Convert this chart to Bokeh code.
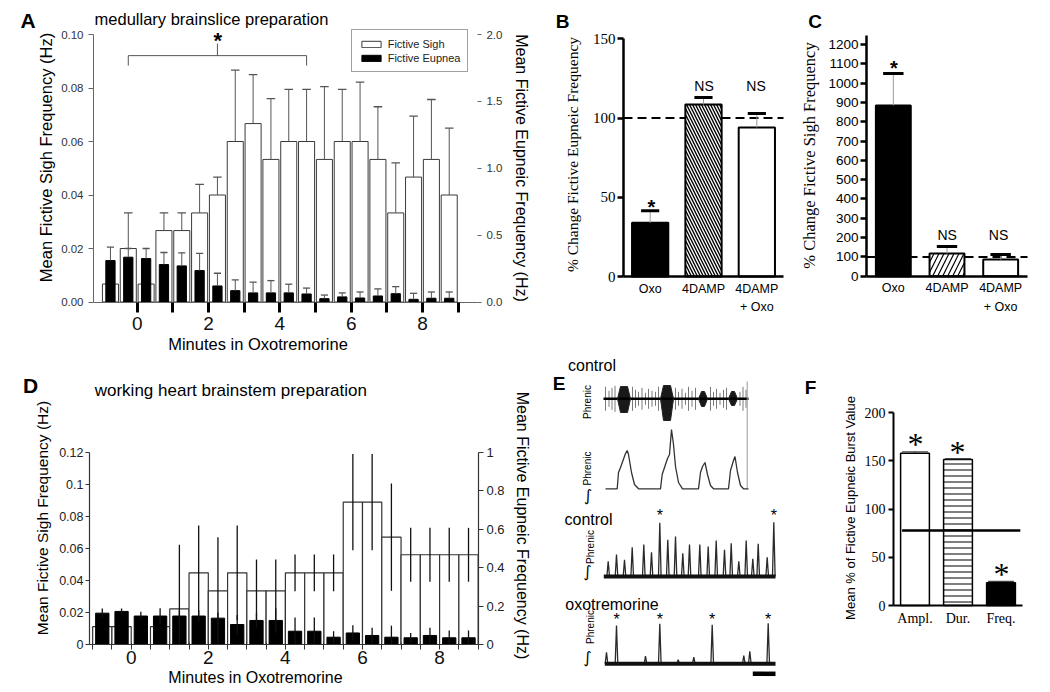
import math
from bokeh.plotting import figure
from bokeh.models import (Range1d, LinearAxis, FixedTicker, NumeralTickFormatter,
                          Label, Legend, LegendItem)
from bokeh.layouts import row, column
from bokeh.embed import file_html
from bokeh.resources import INLINE

SANS = "Liberation Sans"
SERIF = "Liberation Serif"

# ---------------- Panel A data: medullary brainslice ----------------
minutes = [-0.75, -0.25, 0.25, 0.75, 1.25, 1.75, 2.25, 2.75, 3.25, 3.75,
           4.25, 4.75, 5.25, 5.75, 6.25, 6.75, 7.25, 7.75, 8.25, 8.75]
a_sigh = [0.0067, 0.0200, 0.0067, 0.0267, 0.0267, 0.0333, 0.0400, 0.0600, 0.0667, 0.0533,
          0.0600, 0.0600, 0.0533, 0.0600, 0.0600, 0.0533, 0.0333, 0.0467, 0.0533, 0.0400]
a_sigh_sem = [0.0, 0.0133, 0.0, 0.0066, 0.0066, 0.0107, 0.0067, 0.0267, 0.0183, 0.0227,
              0.0195, 0.0195, 0.0272, 0.0195, 0.0222, 0.0197, 0.0187, 0.0228, 0.0224, 0.0250]
a_eup = [0.310, 0.335, 0.325, 0.280, 0.270, 0.235, 0.120, 0.085, 0.068, 0.068,
         0.068, 0.060, 0.025, 0.038, 0.030, 0.045, 0.062, 0.020, 0.028, 0.028]
a_eup_sem = [0.100, 0.065, 0.075, 0.090, 0.098, 0.128, 0.095, 0.080, 0.080, 0.092,
             0.065, 0.044, 0.027, 0.030, 0.045, 0.053, 0.053, 0.045, 0.047, 0.047]
a_minute_ticks = [0, 1, 2, 3, 4, 5, 6, 7, 8, 9]
a_xlim = (-1.225, 9.54)
a_sigh_lim = (0, 0.10)
a_eup_lim = (0, 2.0)
a_sig_span = [-0.25, 4.75]          # bins covered by the significance bracket
a_sig_levels = [0.0884, 0.0921, 0.0966]

# ---------------- Panel B / C data ----------------
treatments = ["Oxo", "4DAMP", "4DAMP\n+ Oxo"]
b_eup_change = [33.9, 108.5, 94.0]
b_eup_sem = [7.6, 4.4, 8.8]
c_sigh_change = [884, 118, 86]
c_sigh_sem = [166, 36, 26]
bc_marks = ["*", "NS", "NS"]
control_level = 100
b_ylim = (0, 150)
c_ylim = (0, 1246)

# ---------------- Panel D data: working heart brainstem ----------------
d_sigh = [0.0112, 0.0112, 0.0, 0.0112, 0.0222, 0.0447, 0.0335, 0.0447, 0.0335, 0.0335,
          0.0447, 0.0447, 0.0447, 0.0888, 0.0888, 0.0670, 0.0560, 0.0560, 0.0560, 0.0560]
d_sigh_sem = [0, 0, 0, 0, 0.0400, 0.0295, 0.0335, 0.0295, 0.0195, 0.0195,
              0.0115, 0.0115, 0.0115, 0.0300, 0.0300, 0.0335, 0.0168, 0.0168, 0.0168, 0.0168]
d_eup = [0.163, 0.172, 0.148, 0.148, 0.148, 0.148, 0.137, 0.104, 0.125, 0.125,
         0.069, 0.069, 0.038, 0.060, 0.047, 0.038, 0.035, 0.047, 0.035, 0.035]
d_eup_sem = [0.024, 0.015, 0.022, 0.040, 0.030, 0.030, 0.030, 0.050, 0.040, 0.064,
             0.072, 0.072, 0.031, 0.040, 0.040, 0.060, 0.025, 0.040, 0.038, 0.038]
d_minute_ticks = [-1, -0.5, 0, 0.5, 1, 1.5, 2, 2.5, 3, 3.5, 4, 4.5, 5, 5.5,
                  6, 6.5, 7, 7.5, 8, 8.5, 9]
d_labelled = [0, 2, 4, 6, 8]
d_xlim = (-1.082, 9.01)
d_sigh_lim = (0, 0.12)
d_eup_lim = (0, 1.0)

# ---------------- Panel E data: phrenic traces (trace px units) ----------------
e_raw_x = [60, 63.5, 66.5, 69.5, 87, 90, 93, 96.5, 100, 103, 106.5, 110, 113,
           130, 133, 136.5, 140, 143, 146.5, 150, 165, 168, 171, 174.5, 178, 181,
           194.5, 197.5, 200.5]
e_raw_amp = [12, 8, 11, 13, 12, 9, 7, 11, 6, 10, 8, 7, 12,
             11, 7, 10, 6, 12, 8, 11, 12, 7, 10, 6, 9, 11,
             7, 12, 9]
e_raw_base = 44.3
e_raw_span = [58, 203]
e_burst_left = [72, 115, 153, 183]
e_burst_right = [85, 128, 162, 192]
e_burst_top = [32, 31, 37, 37]
e_burst_bottom = [58, 66, 52, 51]
e_int_x = [60, 71.7, 73, 75, 80, 81.7, 83, 86, 89, 93, 115, 116.7, 120, 122, 124, 126,
           128, 130, 133, 137, 153, 155, 157, 159.5, 162, 165, 168, 183, 185, 188,
           189.5, 192, 195, 198, 203]
e_int_y = [134.3, 134.3, 118, 113, 99, 96, 100, 118, 130, 134.3, 134.3, 120, 110, 104, 100, 75,
           90, 112, 128, 134.3, 134.3, 118, 112, 108, 120, 131, 134.3, 134.3, 116, 106,
           102, 118, 131, 134.3, 134.3]
e_ctrl_x = [62.7, 71, 79, 86.7, 98.3, 106, 114.3, 122.3, 130, 137.3, 144, 154.3, 162.7,
            170.7, 179, 185.7, 193.3, 200.7, 207.3, 212.7, 221.7, 228.3]
e_ctrl_top = [206.7, 200, 205.3, 192.7, 190, 197.7, 168.3, 185.3, 182, 198.7, 190, 190, 192,
              186, 195.3, 188.7, 206.7, 186, 204.3, 189.3, 202.7, 167.7]
e_ctrl_base = 222
e_ctrl_span = [58.3, 230]
e_oxo_x = [61, 71, 100, 114.3, 132.7, 148.3, 166.7, 198.3, 204.3, 222.7]
e_oxo_top = [297.7, 271, 301.7, 269.3, 305.3, 302.7, 270.3, 301, 296.7, 268.7]
e_oxo_base = 309.3
e_oxo_span = [59.3, 230]
e_scale_bar = [207.3, 230]
e_scale_y = 319.3

# ---------------- Panel F data ----------------
f_params = ["Ampl.", "Dur.", "Freq."]
f_pct = [157.8, 151.3, 23.5]
f_sem = [1.5, 1.0, 1.5]
f_ref = 77.7
f_ylim = (0, 200)


# ---------------- layout helpers (page pixel placement of each panel) ----------------
class Panel:
    def __init__(self, box, xa, xb, ya, yb):
        self.X0, self.Y0, self.W, self.H = box
        self.xa, self.ya = xa, ya
        self.sx = (xb[1] - xa[1]) / (xb[0] - xa[0])
        self.sy = (yb[1] - ya[1]) / (yb[0] - ya[0])

    def dx(self, X):
        return self.xa[1] + (X - self.xa[0]) * self.sx

    def dy(self, Y):
        return self.ya[1] + (Y - self.ya[0]) * self.sy

    def xr(self):
        return (self.dx(self.X0), self.dx(self.X0 + self.W))

    def yr(self):
        return (self.dy(self.Y0 + self.H), self.dy(self.Y0))


def mkfig(P, extra=None):
    p = figure(width=P.W, height=P.H, x_range=Range1d(*P.xr()), y_range=Range1d(*P.yr()),
               output_backend="svg", toolbar_location=None, title=None, min_border=0,
               min_border_left=0, min_border_right=0, min_border_top=0, min_border_bottom=0)
    p.grid.visible = False
    p.outline_line_color = None
    p.background_fill_color = "white"
    p.border_fill_color = "white"
    if extra is not None:
        lo, hi = P.yr()
        p.extra_y_ranges = {"eup": Range1d(lo * extra, hi * extra)}
    return p


def style_axis(ax, line_color="black", line_width=1, tick_out=5, tick_in=0, tick_width=1,
               tick_color=None, size=12, font=SANS, color="black", standoff=3):
    ax.axis_line_color = line_color
    ax.axis_line_width = line_width
    ax.major_tick_out = tick_out
    ax.major_tick_in = tick_in
    ax.major_tick_line_width = tick_width
    ax.major_tick_line_color = tick_color if tick_color else line_color
    ax.minor_tick_line_color = None
    ax.major_label_text_font_size = f"{size}px"
    ax.major_label_text_font = font
    ax.major_label_text_color = color
    ax.major_label_standoff = standoff


def lab(p, P, X, Y, text, size, font=SANS, style="normal", angle=0.0,
        align="center", color="black"):
    p.add_layout(Label(x=P.dx(X), y=P.dy(Y), text=text, text_font_size=f"{size}px",
                       text_font=font, text_font_style=style, angle=angle, text_align=align,
                       text_baseline="middle", text_color=color))


def star(p, P, X, cy, size, font=SANS, style="bold", k=0.17):
    # an asterisk glyph sits above the middle line; shift the anchor so its centre is at cy
    lab(p, P, X, cy + k * size, "*", size, font=font, style=style)


# =============== Panel A ===============
PA = Panel((0, 0, 530, 352), (136.7, 0), (172.36, 1), (301.5, 0), (34, 0.10))
pA = mkfig(PA, extra=a_eup_lim[1] / a_sigh_lim[1])
pA.add_layout(LinearAxis(y_range_name="eup"), "right")

r_sigh = pA.vbar(x=minutes, top=a_sigh, width=0.45, fill_color="white",
                 line_color="#3a3a3a", line_width=1)
sx = [m for m, e in zip(minutes, a_sigh_sem) if e > 0]
sy0 = [v for v, e in zip(a_sigh, a_sigh_sem) if e > 0]
sy1 = [v + e for v, e in zip(a_sigh, a_sigh_sem) if e > 0]
pA.segment(x0=sx, y0=sy0, x1=sx, y1=sy1, line_color="#555555", line_width=1)
pA.segment(x0=[x - 0.12 for x in sx], y0=sy1, x1=[x + 0.12 for x in sx], y1=sy1,
           line_color="#555555", line_width=1.3)

r_eup = pA.vbar(x=minutes, top=a_eup, width=0.26, y_range_name="eup",
                fill_color="black", line_color="black")
ey1 = [v + e for v, e in zip(a_eup, a_eup_sem)]
pA.segment(x0=minutes, y0=a_eup, x1=minutes, y1=ey1, y_range_name="eup",
           line_color="#555555", line_width=1)
pA.segment(x0=[x - 0.1 for x in minutes], y0=ey1, x1=[x + 0.1 for x in minutes], y1=ey1,
           y_range_name="eup", line_color="#555555", line_width=1.3)

mid = (a_sig_span[0] + a_sig_span[1]) / 2
pA.line(x=[a_sig_span[0], a_sig_span[0], a_sig_span[1], a_sig_span[1]],
        y=[a_sig_levels[0], a_sig_levels[1], a_sig_levels[1], a_sig_levels[0]],
        line_color="#555555", line_width=1)
pA.segment(x0=[mid], y0=[a_sig_levels[1]], x1=[mid], y1=[a_sig_levels[2]],
           line_color="#555555", line_width=1)

leg = Legend(items=[LegendItem(label="Fictive Sigh", renderers=[r_sigh]),
                    LegendItem(label="Fictive Eupnea", renderers=[r_eup])],
             location=(350.7 - PA.X0, PA.Y0 + PA.H - 72))
leg.label_text_font = SANS
leg.label_text_font_size = "11px"
leg.label_text_color = "#222222"
leg.glyph_width = 24
leg.glyph_height = 8
leg.label_height = 13
leg.label_standoff = 5
leg.padding = 7
leg.spacing = 1
leg.margin = 0
leg.border_line_color = "#444444"
leg.border_line_width = 1
leg.background_fill_color = "white"
leg.background_fill_alpha = 1
pA.add_layout(leg)

axL = pA.left[0]
style_axis(axL, line_color="#666666", tick_out=5, size=11.5, color="#333333", standoff=5)
axL.ticker = FixedTicker(ticks=[0, 0.02, 0.04, 0.06, 0.08, 0.1])
axL.formatter = NumeralTickFormatter(format="0.00")
axL.fixed_location = a_xlim[0]
axL.bounds = a_sigh_lim
axB = pA.below[0]
style_axis(axB, line_color="#666666", tick_out=10, tick_width=3, tick_color="black",
           size=19, color="#111111", standoff=5)
axB.ticker = FixedTicker(ticks=a_minute_ticks)
axB.major_label_overrides = {t: "" for t in a_minute_ticks if t % 2}
axB.fixed_location = a_sigh_lim[0]
axB.bounds = a_xlim
axR = pA.right[0]
style_axis(axR, line_color="#666666", tick_out=4, size=11.5, color="#333333", standoff=5)
axR.axis_line_alpha = 0
axR.ticker = FixedTicker(ticks=[0, 0.5, 1.0, 1.5, 2.0])
axR.formatter = NumeralTickFormatter(format="0.0")
axR.fixed_location = a_xlim[1]
axR.bounds = a_eup_lim

lab(pA, PA, 27.5, 20, "A", 21, style="bold")
lab(pA, PA, 211, 18.5, "medullary brainslice preparation", 16.5)
star(pA, PA, 217.3, 36, 22)
lab(pA, PA, 45, 157, "Mean Fictive Sigh Frequency (Hz)", 16.5, angle=math.pi / 2)
lab(pA, PA, 520.5, 167.5, "Mean Fictive Eupneic Frequency (Hz)", 16, angle=-math.pi / 2)
lab(pA, PA, 257.5, 343.5, "Minutes in Oxotremorine", 16.5)


# =============== Panel B / C ===============
def treatment_panel(P, ylim, values, sems, hatch, hscale, hweight, ticks, tick_font,
                    tick_size, cap_half, barw):
    p = mkfig(P)
    xs = [i + 0.5 for i in range(len(treatments))]
    xlim = (0, len(treatments))
    p.segment(x0=[xlim[0]], y0=[control_level], x1=[xlim[1]], y1=[control_level],
              line_color="black", line_width=2, line_dash="9 5")
    p.vbar(x=xs, top=values, width=barw, fill_color=["black", "white", "white"],
           line_color="black", line_width=2, hatch_pattern=[" ", hatch, " "],
           hatch_color="black", hatch_scale=hscale, hatch_weight=hweight)
    tops = [v + e for v, e in zip(values, sems)]
    p.segment(x0=xs, y0=values, x1=xs, y1=tops, line_color="#9a9a9a", line_width=1)
    p.segment(x0=[x - cap_half for x in xs], y0=tops, x1=[x + cap_half for x in xs], y1=tops,
              line_color="black", line_width=3)
    ax = p.left[0]
    style_axis(ax, line_width=2.5, tick_out=6, tick_width=2.5, size=tick_size,
               font=tick_font, standoff=2)
    ax.ticker = FixedTicker(ticks=ticks)
    ax.fixed_location = xlim[0]
    ax.bounds = ylim
    bx = p.below[0]
    style_axis(bx, line_width=2.5, tick_out=0, tick_width=0, size=12.5, standoff=5)
    bx.major_tick_line_color = None
    bx.ticker = FixedTicker(ticks=xs)
    bx.major_label_overrides = {x: t for x, t in zip(xs, treatments)}
    bx.major_label_text_line_height = 1.35
    bx.fixed_location = ylim[0]
    bx.bounds = xlim
    return p


PB = Panel((530, 0, 267, 352), (623, 0), (783, 3), (276, 0), (38.3, 150))
pB = treatment_panel(PB, b_ylim, b_eup_change, b_eup_sem, "\\", 6, 1.4,
                     [0, 50, 100, 150], SERIF, 15, 0.17, 0.68)
lab(pB, PB, 562, 21, "B", 19, style="bold")
lab(pB, PB, 572, 154, "% Change Fictive Eupneic Frequency", 15.5, font=SERIF,
    angle=math.pi / 2)
star(pB, PB, 651, 203, 20)
lab(pB, PB, 703.5, 85.5, bc_marks[1], 14)
lab(pB, PB, 755.5, 85.5, bc_marks[2], 14)

PC = Panel((797, 0, 251, 352), (866, 0), (1027, 3), (275.7, 0), (44, 1200))
pC = treatment_panel(PC, c_ylim, c_sigh_change, c_sigh_sem, "/", 10, 1.2,
                     [0, 100, 200, 300, 400, 500, 600, 700, 800, 900, 1000, 1100, 1200],
                     SANS, 13.5, 0.19, 0.65)
lab(pC, PC, 814.5, 21, "C", 19, style="bold")
lab(pC, PC, 808.5, 155, "% Change Fictive Sigh Frequency", 16.5, font=SERIF,
    angle=math.pi / 2)
star(pC, PC, 893.5, 64.5, 20)
lab(pC, PC, 946.7, 234.5, bc_marks[1], 14)
lab(pC, PC, 998, 234.5, bc_marks[2], 14)


# =============== Panel D ===============
PD = Panel((0, 352, 545, 338), (130.7, 0), (169.25, 1), (644, 0), (451.7, 0.12))
pD = mkfig(PD, extra=d_eup_lim[1] / d_sigh_lim[1])
pD.add_layout(LinearAxis(y_range_name="eup"), "right")
pD.vbar(x=minutes, top=d_sigh, width=0.5, fill_color="white", line_color="#333333",
        line_width=1.2)
pD.vbar(x=minutes, top=d_eup, width=0.345, y_range_name="eup", fill_color="black",
        line_color="black")
dsx = [m for m, e in zip(minutes, d_sigh_sem) if e > 0]
dlo = [max(0, v - e) for v, e in zip(d_sigh, d_sigh_sem) if e > 0]
dhi = [v + e for v, e in zip(d_sigh, d_sigh_sem) if e > 0]
pD.segment(x0=dsx, y0=dlo, x1=dsx, y1=dhi, line_color="#111111", line_width=1.3)
pD.segment(x0=minutes, y0=[max(0, v - e) for v, e in zip(d_eup, d_eup_sem)], x1=minutes,
           y1=[v + e for v, e in zip(d_eup, d_eup_sem)], y_range_name="eup",
           line_color="#111111", line_width=1.3)

dL = pD.left[0]
style_axis(dL, line_color="#333333", line_width=1.2, tick_out=4, size=12.5,
           color="#222222", standoff=2)
dL.ticker = FixedTicker(ticks=[0, 0.02, 0.04, 0.06, 0.08, 0.1, 0.12])
dL.major_label_overrides = {0: "0", 0.02: "0.02", 0.04: "0.04", 0.06: "0.06",
                            0.08: "0.08", 0.1: "0.1", 0.12: "0.12"}
dL.fixed_location = d_xlim[0]
dL.bounds = d_sigh_lim
dB = pD.below[0]
style_axis(dB, line_color="#333333", line_width=1.2, tick_out=5, tick_in=2, size=19,
           color="#111111", standoff=1)
dB.ticker = FixedTicker(ticks=d_minute_ticks)
dB.major_label_overrides = {t: "" for t in d_minute_ticks if t not in d_labelled}
dB.fixed_location = d_sigh_lim[0]
dB.bounds = d_xlim
dR = pD.right[0]
style_axis(dR, line_color="#333333", line_width=1.2, tick_out=5, size=13,
           color="#222222", standoff=3)
dR.ticker = FixedTicker(ticks=[0, 0.2, 0.4, 0.6, 0.8, 1])
dR.major_label_overrides = {0: "0", 0.2: "0.2", 0.4: "0.4", 0.6: "0.6", 0.8: "0.8", 1: "1"}
dR.fixed_location = d_xlim[1]
dR.bounds = d_eup_lim

lab(pD, PD, 30, 385, "D", 21, style="bold")
lab(pD, PD, 230.3, 389.5, "working heart brainstem preparation", 17)
lab(pD, PD, 41.5, 517.5, "Mean Fictive Sigh Frequency (Hz)", 15.5, angle=math.pi / 2)
lab(pD, PD, 522, 525, "Mean Fictive Eupneic Frequency (Hz)", 16, angle=-math.pi / 2)
lab(pD, PD, 255, 676.5, "Minutes in Oxotremorine", 16)


# =============== Panel E ===============
PE = Panel((545, 352, 245, 338), (545, 0), (790, 245), (354, 0), (684, 330))
pE = mkfig(PE)
pE.xaxis.visible = False
pE.yaxis.visible = False
# raw phrenic
pE.segment(x0=e_raw_x, y0=[e_raw_base - a for a in e_raw_amp], x1=e_raw_x,
           y1=[e_raw_base + a for a in e_raw_amp], line_color="#7a7a7a", line_width=1)
pE.line(x=e_raw_span, y=[e_raw_base, e_raw_base], line_color="black", line_width=2.5)
pE.patches(xs=[[l, l + 3, r - 3, r, r - 3, l + 3] for l, r in zip(e_burst_left, e_burst_right)],
           ys=[[e_raw_base, t, t, e_raw_base, b, b] for t, b in zip(e_burst_top, e_burst_bottom)],
           fill_color="black", fill_alpha=0.9, line_color="#222222", line_width=1)
pE.segment(x0=[e_raw_span[1] - 1.3], y0=[e_burst_top[0] - 5], x1=[e_raw_span[1] - 1.3],
           y1=[e_int_y[-1]], line_color="#9a9a9a", line_width=1)
# integrated control
pE.line(x=e_int_x, y=e_int_y, line_color="#333333", line_width=1.3)
# integrated control (slow sweep)
pE.multi_line(xs=[[x - 1.3, x, x + 1.3] for x in e_ctrl_x],
              ys=[[e_ctrl_base, t, e_ctrl_base] for t in e_ctrl_top],
              line_color="#2a2a2a", line_width=1.3)
pE.line(x=e_ctrl_span, y=[e_ctrl_base, e_ctrl_base], line_color="#111111", line_width=4)
# integrated oxotremorine
pE.multi_line(xs=[[x - 1.3, x, x + 1.3] for x in e_oxo_x],
              ys=[[e_oxo_base, t, e_oxo_base] for t in e_oxo_top],
              line_color="#2a2a2a", line_width=1.3)
pE.line(x=e_oxo_span, y=[e_oxo_base, e_oxo_base], line_color="#111111", line_width=4)
pE.line(x=e_scale_bar, y=[e_scale_y, e_scale_y], line_color="black", line_width=4.5)

for x, t in zip(e_ctrl_x, e_ctrl_top):
    if e_ctrl_base - t > 45:
        star(pE, PE, x + 545, 513.3, 16, style="normal", k=0.13)
for x, t in zip(e_oxo_x, e_oxo_top):
    if e_oxo_base - t > 30:
        star(pE, PE, x + 545, 616.7, 16, style="normal", k=0.13)

lab(pE, PE, 591.5, 364.5, "control", 16)
lab(pE, PE, 558.5, 382.5, "E", 19, style="bold")
lab(pE, PE, 587, 401.5, "Phrenic", 10, angle=math.pi / 2)
lab(pE, PE, 587, 468, "Phrenic", 10, angle=math.pi / 2)
lab(pE, PE, 587.5, 495, "\u222b", 16, font="DejaVu Sans")
lab(pE, PE, 588, 518.5, "control", 16)
lab(pE, PE, 590, 546.5, "Phrenic", 10, angle=math.pi / 2)
lab(pE, PE, 587, 571, "\u222b", 16, font="DejaVu Sans")
lab(pE, PE, 611.5, 604, "oxotremorine", 16)
lab(pE, PE, 590, 626.5, "Phrenic", 10, angle=math.pi / 2)
lab(pE, PE, 587, 657, "\u222b", 16, font="DejaVu Sans")


# =============== Panel F ===============
PF = Panel((790, 352, 258, 338), (893, 0), (1022, 3), (605, 0), (412, 200))
pF = mkfig(PF)
fx = [i + 0.5 for i in range(len(f_params))]
f_xlim = (0, len(f_params))
pF.vbar(x=fx, top=f_pct, width=0.67, fill_color=["white", "white", "black"],
        line_color="black", line_width=1.5, hatch_pattern=[" ", "-", " "],
        hatch_color="black", hatch_scale=6, hatch_weight=1)
ftop = [v + e for v, e in zip(f_pct, f_sem)]
pF.segment(x0=fx, y0=f_pct, x1=fx, y1=ftop, line_color="black", line_width=1)
pF.segment(x0=[x - 0.3 for x in fx], y0=ftop, x1=[x + 0.3 for x in fx], y1=ftop,
           line_color="#444444", line_width=1.2)
pF.segment(x0=[fx[0] - 0.3], y0=[f_ref], x1=[fx[-1] + 0.45], y1=[f_ref],
           line_color="black", line_width=2.5)
fL = pF.left[0]
style_axis(fL, line_width=2, tick_out=5, tick_width=2, size=14, font=SERIF, standoff=3)
fL.ticker = FixedTicker(ticks=[0, 50, 100, 150, 200])
fL.fixed_location = f_xlim[0]
fL.bounds = f_ylim
fB = pF.below[0]
style_axis(fB, line_width=2, tick_out=0, tick_width=0, size=14, font=SERIF, standoff=5)
fB.major_tick_line_color = None
fB.ticker = FixedTicker(ticks=fx)
fB.major_label_overrides = {x: t for x, t in zip(fx, f_params)}
fB.fixed_location = f_ylim[0]
fB.bounds = f_xlim

lab(pF, PF, 810, 387, "F", 19, style="bold")
lab(pF, PF, 850, 507.5, "Mean % of Fictive Eupneic Burst Value", 13, angle=math.pi / 2)
for X, cy in zip([915, 957, 1001], [440, 448, 570]):
    star(pF, PF, X, cy, 32, font=SERIF, style="normal", k=0.1)


layout = column(row(pA, pB, pC), row(pD, pE, pF))
open("out.html", "w").write(file_html(layout, INLINE))
